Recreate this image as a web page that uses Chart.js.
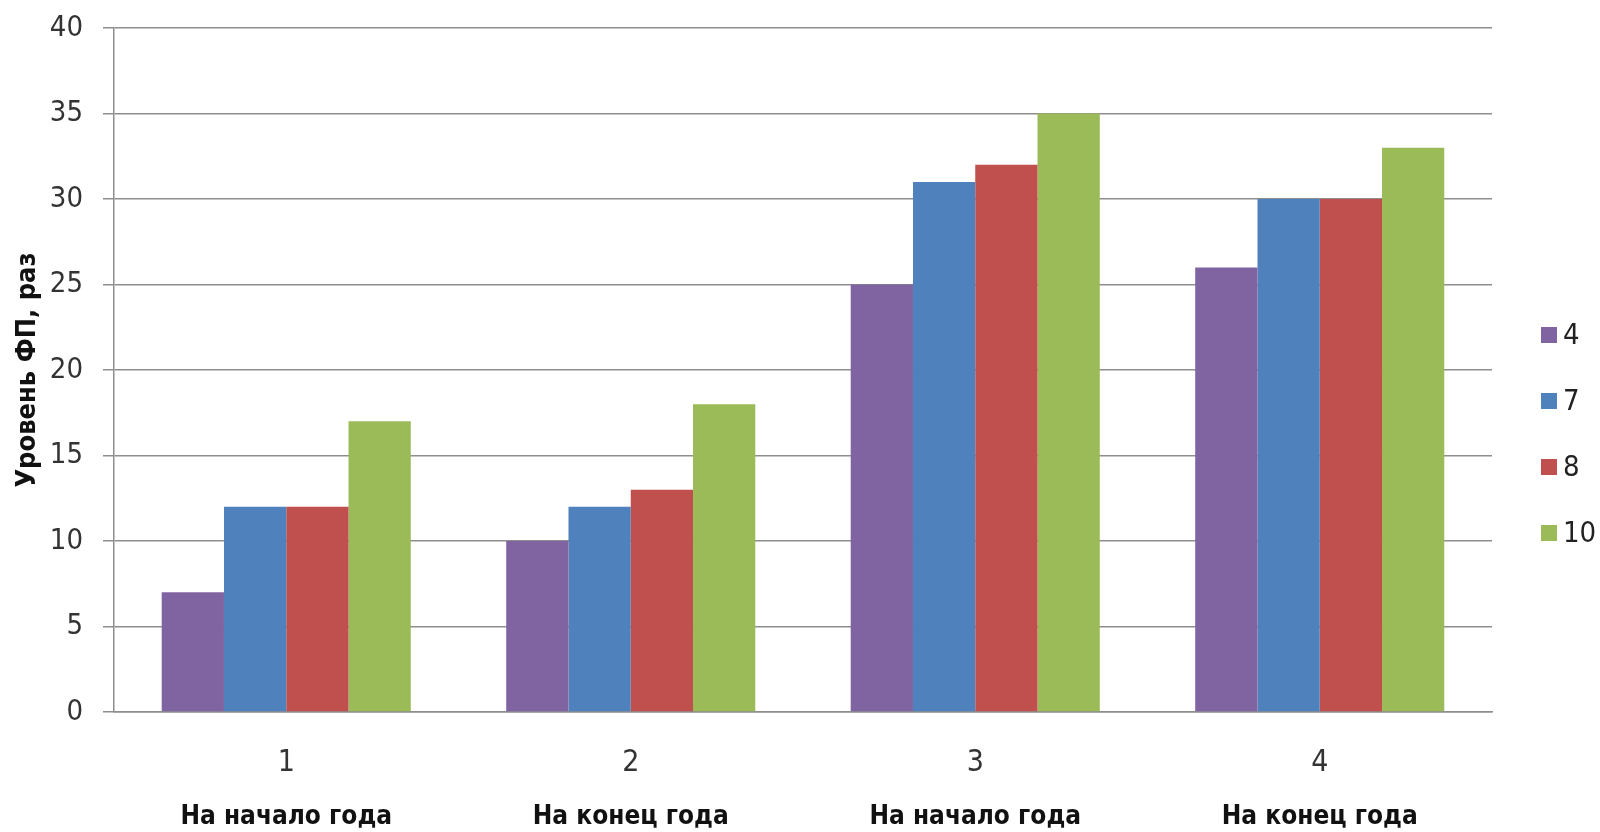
<!DOCTYPE html>
<html lang="ru">
<head>
<meta charset="utf-8">
<title>Уровень ФП</title>
<script src="https://cdn.jsdelivr.net/npm/chart.js@4.4.1/dist/chart.umd.min.js"></script>
<style>
  html, body { margin: 0; padding: 0; background: #ffffff; }
  #wrap { width: 1600px; height: 832px; }
</style>
</head>
<body>
<div id="wrap"><canvas id="chart" width="1600" height="832"></canvas></div>
<script>
// Measurement points and the period each one refers to
const categories = ['1', '2', '3', '4'];
const periods = ['На начало года', 'На конец года', 'На начало года', 'На конец года'];

// Series names (legend) and values per measurement point
const seriesNames = ['4', '7', '8', '10'];
const series4 = [7, 10, 25, 26];
const series7 = [12, 12, 31, 30];
const series8 = [12, 13, 32, 30];
const series10 = [17, 18, 35, 33];

const yTicks = [0, 5, 10, 15, 20, 25, 30, 35, 40];
const yTitle = 'Уровень ФП, раз';

const colors = ['#8064A2', '#4F81BD', '#C0504D', '#9BBB59'];
const FONT = "'DejaVu Sans Condensed', 'Liberation Sans', sans-serif";

const values = [series4, series7, series8, series10];

// Legend drawn at the right edge, one row per series
const sideLegend = {
  id: 'sideLegend',
  afterDraw(chart, args, opts) {
    const ctx = chart.ctx;
    ctx.save();
    ctx.font = `${opts.fontSize}px ${FONT}`;
    ctx.textBaseline = 'middle';
    ctx.textAlign = 'left';
    chart.data.datasets.forEach((ds, i) => {
      const cy = opts.top + i * opts.step;
      ctx.fillStyle = ds.backgroundColor;
      ctx.fillRect(opts.x, cy - opts.box / 2, opts.box, opts.box);
      ctx.fillStyle = '#222';
      ctx.fillText(ds.label, opts.x + opts.box + 6, cy + 1);
    });
    ctx.restore();
  }
};

new Chart(document.getElementById('chart'), {
  type: 'bar',
  data: {
    labels: categories,
    datasets: seriesNames.map((name, i) => ({
      label: name,
      data: values[i],
      backgroundColor: colors[i],
      borderWidth: 0,
      categoryPercentage: 0.723,
      barPercentage: 1.0,
      xAxisID: 'x'
    }))
  },
  options: {
    responsive: false,
    animation: false,
    layout: { padding: { top: 0, right: 108, bottom: 0, left: 0 } },
    plugins: {
      legend: { display: false },
      tooltip: { enabled: false },
      sideLegend: { x: 1541, top: 335, step: 66, box: 16, fontSize: 29 }
    },
    scales: {
      x: {
        type: 'category',
        position: 'bottom',
        labels: categories,
        weight: 0,
        afterFit(scale) { scale.height = 68; },
        grid: { display: false, drawTicks: false },
        border: { display: true, color: '#8e8e8e', width: 1.5 },
        ticks: { font: { family: FONT, size: 30 }, color: '#333', padding: 33 }
      },
      x2: {
        type: 'category',
        position: 'bottom',
        labels: periods,
        weight: 1,
        afterFit(scale) { scale.height = 52; },
        grid: { display: false, drawTicks: false },
        border: { display: false },
        ticks: { font: { family: FONT, size: 26, weight: 'bold' }, color: '#111', padding: 22 }
      },
      y: {
        min: 0,
        max: 40,
        afterBuildTicks(scale) { scale.ticks = yTicks.map(v => ({ value: v })); },
        afterFit(scale) {
          scale.width = 114;
          scale.paddingTop = 28;
          scale.paddingBottom = 0;
        },
        grid: { color: '#8e8e8e', lineWidth: 1.5, tickLength: 11, drawTicks: true },
        border: { display: true, color: '#8e8e8e', width: 1.5 },
        ticks: { font: { family: FONT, size: 29 }, color: '#333', padding: 20 },
        title: {
          display: true,
          text: yTitle,
          font: { family: FONT, size: 27, weight: 'bold' },
          color: '#111',
          padding: { top: 12, bottom: 0 }
        }
      }
    }
  },
  plugins: [sideLegend]
});
</script>
</body>
</html>
